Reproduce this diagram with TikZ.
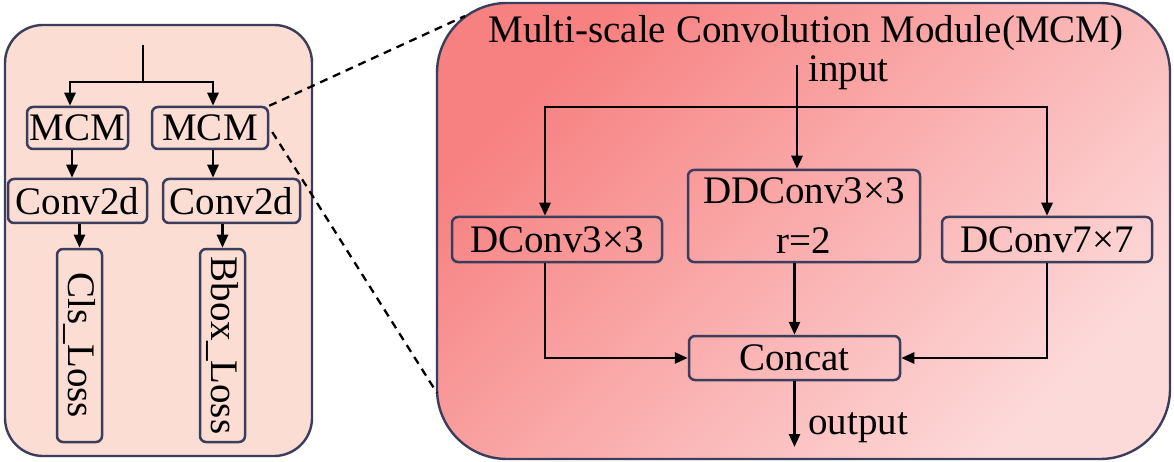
\documentclass[tikz,border=0pt]{standalone}
\usepackage{fontspec}
\setmainfont{Liberation Serif}
\usepackage{graphicx}
\usetikzlibrary{arrows.meta,calc}
\definecolor{lpanel}{RGB}{251,221,211}
\definecolor{rtop}{RGB}{247,128,128}
\definecolor{rbot}{RGB}{253,218,218}
\definecolor{edge}{RGB}{58,62,92}
\begin{document}
\begin{tikzpicture}[x=1pt,y=-1pt,
  box/.style={draw=edge, line width=2.5pt, rounded corners=6pt, inner sep=0pt, align=center, font=\fontsize{39}{50}\selectfont},
  arr/.style={line width=2.6pt, -{Triangle[length=13pt,width=11pt]}},
  ln/.style={line width=2.6pt},
  dashline/.style={line width=2.3pt, dash pattern=on 8pt off 6pt},
  lbl/.style={inner sep=0pt, font=\fontsize{39}{46}\selectfont},
  panel/.style={draw=edge, line width=2.4pt}]
\useasboundingbox (0,0) rectangle (1174,462);
\fill[white] (0,0) rectangle (1174,462);
% panels
\path[panel, fill=lpanel, rounded corners=38pt] (5,25) rectangle (312,456);
\path[panel, rounded corners=70pt, top color=rtop, bottom color=rbot, shading angle=45] (437,3) rectangle (1170,459);
% left nodes
\node[box, minimum width=101pt, minimum height=42pt] (mcmA) at (77.5,128) {MCM};
\node[box, minimum width=116pt, minimum height=42pt] (mcmB) at (210,128) {MCM};
\node[box, minimum width=139pt, minimum height=44pt] (convA) at (77.5,201) {Conv2d};
\node[box, minimum width=137pt, minimum height=44pt] (convB) at (231.5,201) {Conv2d};
\node[box, minimum width=45pt, minimum height=193pt] (cls) at (79.5,345.5) {\rotatebox{-90}{Cls\_Loss}};
\node[box, minimum width=45pt, minimum height=193pt] (bbox) at (222.5,345.5) {\rotatebox{-90}{Bbox\_Loss}};
% left connectors
\coordinate (ltop) at (143,45);
\coordinate (lsplit) at (143,82);
\draw[ln] (ltop) -- (lsplit);
\draw[arr] (lsplit) -| ($(mcmA.north)+(-7.5,0)$);
\draw[arr] (lsplit) -| ($(mcmB.north)+(3,0)$);
\draw[arr] ($(mcmA.south)+(-5.5,0)$) -- ($(mcmA.south |- convA.north)+(-5.5,0)$);
\draw[arr] ($(mcmB.south)+(3,0)$) -- ($(mcmB.south |- convB.north)+(3,0)$);
\draw[arr] (convA.south -| cls.north) -- (cls.north);
\draw[arr] (convB.south -| bbox.north) -- (bbox.north);
% right nodes
\node[lbl, anchor=base] (title) at (806,43) {Multi-scale Convolution Module(MCM)};
\node[box, minimum width=210pt, minimum height=45pt] (dc3) at (557,239.5) {DConv3×3};
\node[box, minimum width=232pt, minimum height=92pt] (ddc) at (804,216) {DDConv3×3\\r=2};
\node[box, minimum width=210pt, minimum height=45pt] (dc7) at (1047,239.5) {DConv7×7};
\node[box, minimum width=211pt, minimum height=44pt] (concat) at (794.5,358) {Concat};
\node[lbl, anchor=base west] (inlbl) at (808,82) {input};
\node[lbl, anchor=base west] (outlbl) at (808,434) {output};
% right connectors
\coordinate (inTop) at (797,65);
\coordinate (rsplit) at (797,107);
\draw[arr] (inTop) -- (inTop |- ddc.north);
\draw[arr] (rsplit) -| ($(dc3.north)+(-12,0)$);
\draw[arr] (rsplit) -| (dc7.north);
\draw[arr] ($(dc3.south)+(-12,0)$) |- (concat.west);
\draw[arr] (dc7.south) |- (concat.east);
\draw[arr] (ddc.south -| concat.north) -- (concat.north);
\coordinate (outEnd) at (794.5,447);
\draw[arr] (concat.south) -- (outEnd);
% dashed zoom lines
\coordinate (dU) at (465,16);
\coordinate (dL) at (437,393);
\draw[dashline] (mcmB.north east) -- (dU);
\draw[dashline] ($(mcmB.east)+(3,4)$) -- (dL);
\end{tikzpicture}
\end{document}
